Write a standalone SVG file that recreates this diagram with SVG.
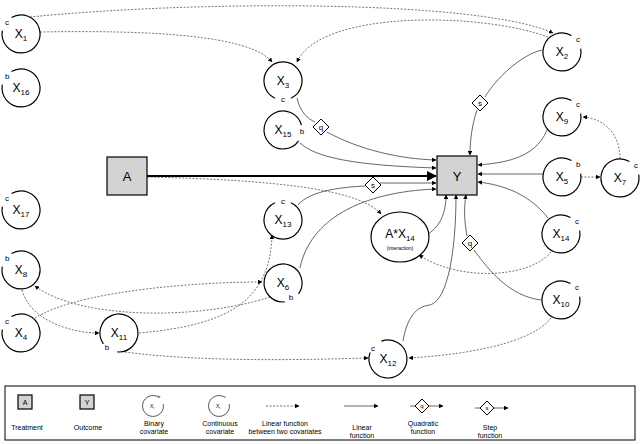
<svg xmlns="http://www.w3.org/2000/svg" width="640" height="444" viewBox="0 0 640 444">
<defs>
<marker id="ar" viewBox="0 0 10 10" refX="9" refY="5" markerWidth="5" markerHeight="5" orient="auto"><path d="M0,0L10,5L0,10z" fill="#000"/></marker>
<style>
text{font-family:"Liberation Sans",Arial,sans-serif;fill:#000}
.n{fill:none;stroke:#000;stroke-width:1.2}
.lb{font-size:13px}
.sm{font-size:8px}
.d{fill:none;stroke:#666;stroke-width:0.9;stroke-dasharray:2,1.5}
.s{fill:none;stroke:#555;stroke-width:0.9}
.box{fill:#d3d3d3;stroke:#000;stroke-width:1.2}
.dm{fill:#fff;stroke:#000;stroke-width:1}
.lg{font-size:7px;text-anchor:middle}
</style>
</defs>
<rect width="640" height="444" fill="#fff"/>
<g id="connectors">
<path class="d" d="M30,17 C200,0 480,0 553,33" marker-end="url(#ar)"/>
<path class="d" d="M40,32 C150,30 250,35 272,62" marker-end="url(#ar)"/>
<path class="d" d="M548,37 C480,12 320,10 297,62" marker-end="url(#ar)"/>
<path class="d" d="M147,177 C280,180 360,190 381,214" marker-end="url(#ar)"/>
<path class="d" d="M620,159 C620,130 600,118 583,117" marker-end="url(#ar)"/>
<path class="d" d="M581,177 L600,177" marker-end="url(#ar)"/>
<path class="d" d="M551,252 C530,278 460,282 419,255" marker-end="url(#ar)"/>
<path class="d" d="M551,318 C530,345 460,355 409,358" marker-end="url(#ar)"/>
<path class="d" d="M125,352 C200,362 300,360 368,358" marker-end="url(#ar)"/>
<path class="d" d="M139,333 C230,325 270,300 272,235" marker-end="url(#ar)"/>
<path class="d" d="M35,318 C80,290 200,282 262,282" marker-end="url(#ar)"/>
<path class="d" d="M270,297 C200,320 80,320 35,286" marker-end="url(#ar)"/>
<path class="d" d="M22,290 C30,320 70,333 99,333" marker-end="url(#ar)"/>
<path d="M147,176 L436,176" fill="none" stroke="#000" stroke-width="2" marker-end="url(#ar)"/>
<path class="s" d="M297,98 C300,112 308,119 315,122"/>
<path class="s" d="M327,132 C360,150 400,159 436,160" marker-end="url(#ar)"/>
<path class="s" d="M300,143 C320,162 380,166 436,168" marker-end="url(#ar)"/>
<path class="s" d="M298,205 C310,190 345,187 365,186"/>
<path class="s" d="M380,183 L436,183" marker-end="url(#ar)"/>
<path class="s" d="M300,268 C310,220 360,192 436,189" marker-end="url(#ar)"/>
<path class="s" d="M428,234 C442,225 446,210 446,195" marker-end="url(#ar)"/>
<path class="s" d="M403,341 C408,312 420,306 430,305 C448,300 456,250 456,195" marker-end="url(#ar)"/>
<path class="s" d="M541,300 C510,296 490,272 474,250"/>
<path class="s" d="M467,236 C464,220 464,207 466,195" marker-end="url(#ar)"/>
<path class="s" d="M542,50 C520,55 495,80 485,97"/>
<path class="s" d="M477,110 C472,125 470,140 470,155" marker-end="url(#ar)"/>
<path class="s" d="M547,130 C535,160 500,163 478,165" marker-end="url(#ar)"/>
<path class="s" d="M543,174 L478,174" marker-end="url(#ar)"/>
<path class="s" d="M548,218 C530,195 505,185 478,182" marker-end="url(#ar)"/>
<path class="dm" d="M321,119 L329,127 L321,135 L313,127z"/><text x="321" y="130" class="sm" text-anchor="middle">q</text>
<path class="dm" d="M373,177 L381,185 L373,193 L365,185z"/><text x="373" y="188" class="sm" text-anchor="middle">s</text>
<path class="dm" d="M480,95 L488,103 L480,111 L472,103z"/><text x="480" y="106" class="sm" text-anchor="middle">s</text>
<path class="dm" d="M470,235 L478,243 L470,251 L462,243z"/><text x="470" y="246" class="sm" text-anchor="middle">q</text>
</g>
<g id="A"><rect class="box" x="107" y="157" width="40" height="38"/><text x="127" y="181" class="lb" text-anchor="middle">A</text></g>
<g id="Y"><rect class="box" x="437" y="156" width="40" height="39"/><text x="457" y="181" class="lb" text-anchor="middle">Y</text></g>
<g id="AX14"><ellipse class="n" cx="400" cy="237" rx="29" ry="25"/><text x="400" y="238" font-size="12" text-anchor="middle">A*X<tspan font-size="8" dy="3">14</tspan></text><text x="400" y="250" font-size="5" text-anchor="middle">(interaction)</text></g>
<g id="X1" transform="translate(21,34)"><path class="n" d="M-9.5,-16.5 A19,19 0 1 1 -18.7,-3.3"/><text x="0" y="4" font-size="12" text-anchor="middle">X<tspan font-size="8" dy="3">1</tspan></text><text x="-16" y="-9" class="sm">c</text></g>
<g id="X16" transform="translate(21,88)"><path class="n" d="M-9.5,-16.5 A19,19 0 1 1 -18.7,-3.3"/><text x="0" y="4" font-size="12" text-anchor="middle">X<tspan font-size="8" dy="3">16</tspan></text><text x="-16" y="-9" class="sm">b</text></g>
<g id="X17" transform="translate(21,210)"><path class="n" d="M-9.5,-16.5 A19,19 0 1 1 -18.7,-3.3"/><text x="0" y="4" font-size="12" text-anchor="middle">X<tspan font-size="8" dy="3">17</tspan></text><text x="-16" y="-9" class="sm">c</text></g>
<g id="X8" transform="translate(21,270)"><path class="n" d="M-9.5,-16.5 A19,19 0 1 1 -18.7,-3.3"/><text x="0" y="4" font-size="12" text-anchor="middle">X<tspan font-size="8" dy="3">8</tspan></text><text x="-16" y="-9" class="sm">b</text></g>
<g id="X4" transform="translate(21,333)"><path class="n" d="M-9.5,-16.5 A19,19 0 1 1 -18.7,-3.3"/><text x="0" y="4" font-size="12" text-anchor="middle">X<tspan font-size="8" dy="3">4</tspan></text><text x="-16" y="-9" class="sm">c</text></g>
<g id="X3" transform="translate(283,81)"><path class="n" d="M-8,17.2 A19,19 0 1 1 8,17.2"/><text x="0" y="4" font-size="12" text-anchor="middle">X<tspan font-size="8" dy="3">3</tspan></text><text x="0" y="21" class="sm" text-anchor="middle">c</text></g>
<g id="X15" transform="translate(283,130)"><path class="n" d="M15.6,10.9 A19,19 0 1 1 18.4,-4.9"/><text x="0" y="4" font-size="12" text-anchor="middle">X<tspan font-size="8" dy="3">15</tspan></text><text x="19" y="4" class="sm" text-anchor="middle">b</text></g>
<g id="X13" transform="translate(283,220)"><path class="n" d="M8,-17.2 A19,19 0 1 1 -8,-17.2"/><text x="0" y="4" font-size="12" text-anchor="middle">X<tspan font-size="8" dy="3">13</tspan></text><text x="0" y="-16" class="sm" text-anchor="middle">c</text></g>
<g id="X6" transform="translate(283,283)"><path class="n" d="M1.7,18.9 A19,19 0 1 1 15.6,10.9"/><text x="0" y="4" font-size="12" text-anchor="middle">X<tspan font-size="8" dy="3">6</tspan></text><text x="8" y="17" class="sm" text-anchor="middle">b</text></g>
<g id="X11" transform="translate(119,333)"><path class="n" d="M-15.6,10.9 A19,19 0 1 1 -1.7,18.9"/><text x="0" y="4" font-size="12" text-anchor="middle">X<tspan font-size="8" dy="3">11</tspan></text><text x="-12" y="17" class="sm" text-anchor="middle">b</text></g>
<g id="X12" transform="translate(388,359)"><path class="n" d="M-6.5,-17.9 A19,19 0 1 1 -17.9,-6.5"/><text x="0" y="4" font-size="12" text-anchor="middle">X<tspan font-size="8" dy="3">12</tspan></text><text x="-17" y="-8" class="sm">c</text></g>
<g id="X2" transform="translate(562,52)"><path class="n" d="M18.7,-3.3 A19,19 0 1 1 9.5,-16.5"/><text x="0" y="4" font-size="12" text-anchor="middle">X<tspan font-size="8" dy="3">2</tspan></text><text x="14" y="-10" class="sm">c</text></g>
<g id="X9" transform="translate(562,117)"><path class="n" d="M18.7,-3.3 A19,19 0 1 1 9.5,-16.5"/><text x="0" y="4" font-size="12" text-anchor="middle">X<tspan font-size="8" dy="3">9</tspan></text><text x="14" y="-10" class="sm">c</text></g>
<g id="X5" transform="translate(562,177)"><path class="n" d="M18.7,-3.3 A19,19 0 1 1 9.5,-16.5"/><text x="0" y="4" font-size="12" text-anchor="middle">X<tspan font-size="8" dy="3">5</tspan></text><text x="14" y="-10" class="sm">b</text></g>
<g id="X7" transform="translate(620,178)"><path class="n" d="M18.7,-3.3 A19,19 0 1 1 9.5,-16.5"/><text x="0" y="4" font-size="12" text-anchor="middle">X<tspan font-size="8" dy="3">7</tspan></text><text x="14" y="-10" class="sm">c</text></g>
<g id="X14" transform="translate(561,234)"><path class="n" d="M18.7,-3.3 A19,19 0 1 1 9.5,-16.5"/><text x="0" y="4" font-size="12" text-anchor="middle">X<tspan font-size="8" dy="3">14</tspan></text><text x="14" y="-10" class="sm">c</text></g>
<g id="X10" transform="translate(561,300)"><path class="n" d="M18.7,-3.3 A19,19 0 1 1 9.5,-16.5"/><text x="0" y="4" font-size="12" text-anchor="middle">X<tspan font-size="8" dy="3">10</tspan></text><text x="14" y="-10" class="sm">c</text></g>
<g id="legend">
<rect x="5" y="386" width="630" height="54" fill="none" stroke="#000" stroke-width="1"/>
<rect class="box" x="18" y="395" width="14" height="14"/><text x="25" y="405" font-size="7" text-anchor="middle">A</text>
<text x="27" y="430" class="lg">Treatment</text>
<rect class="box" x="80" y="395" width="14" height="14"/><text x="87" y="405" font-size="7" text-anchor="middle">Y</text>
<text x="88" y="430" class="lg">Outcome</text>
<path class="n" transform="translate(153,406) scale(0.55)" d="M18.7,-3.3 A19,19 0 1 1 9.5,-16.5"/><text x="152" y="408" font-size="5" text-anchor="middle">X<tspan font-size="3.5" dy="1">i</tspan></text><text x="158" y="398" font-size="4">b</text>
<text x="154" y="426" class="lg">Binary</text><text x="154" y="434" class="lg">covariate</text>
<path class="n" transform="translate(219,406) scale(0.55)" d="M18.7,-3.3 A19,19 0 1 1 9.5,-16.5"/><text x="218" y="408" font-size="5" text-anchor="middle">X<tspan font-size="3.5" dy="1">i</tspan></text><text x="224" y="398" font-size="4">c</text>
<text x="220" y="426" class="lg">Continuous</text><text x="220" y="434" class="lg">covariate</text>
<path class="d" d="M266,406 L299,406" marker-end="url(#ar)"/>
<text x="285" y="426" class="lg">Linear function</text><text x="285" y="434" class="lg">between two covariates</text>
<path class="s" d="M344,406 L378,406" marker-end="url(#ar)"/>
<text x="362" y="430" class="lg">Linear</text><text x="362" y="438" class="lg">function</text>
<path class="s" d="M410,406 L443,406" marker-end="url(#ar)"/>
<path class="dm" d="M422,399 L429,406 L422,413 L415,406z"/><text x="422" y="408" font-size="6" text-anchor="middle">q</text>
<text x="423" y="426" class="lg">Quadratic</text><text x="423" y="434" class="lg">function</text>
<path class="s" d="M475,408 L508,408" marker-end="url(#ar)"/>
<path class="dm" d="M487,401 L494,408 L487,415 L480,408z"/><text x="487" y="410" font-size="6" text-anchor="middle">s</text>
<text x="490" y="430" class="lg">Step</text><text x="490" y="438" class="lg">function</text>
</g>
</svg>
